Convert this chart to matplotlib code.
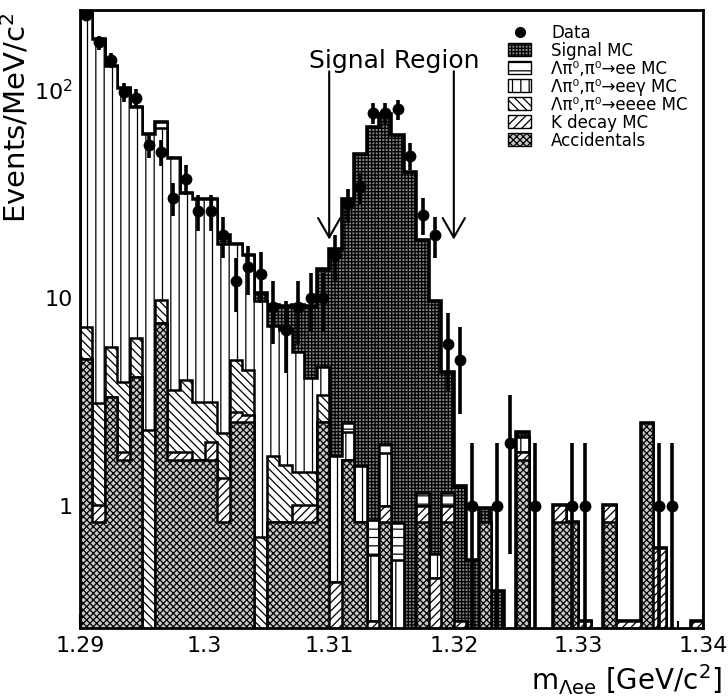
import numpy as np
import matplotlib
matplotlib.use("Agg")
import matplotlib.pyplot as plt
from matplotlib.patches import Patch
from matplotlib.lines import Line2D
from matplotlib.ticker import MultipleLocator, LogLocator, FixedLocator, FuncFormatter, NullFormatter

plt.rcParams['font.family'] = ['DejaVu Sans']
plt.rcParams['hatch.linewidth'] = 0.9

# ---- binning: 1 MeV bins from 1.29 to 1.34 GeV ----
x_min, x_max, n_bins = 1.29, 1.34, 50
edges = np.linspace(x_min, x_max, n_bins + 1)
centers = 0.5 * (edges[:-1] + edges[1:])

# ---- data (events per MeV bin) ----
data = [227, 168, 138, 97, 91, 54, 50, 30, 37, 26,
        26, 20, 12, 14, 13, 9, 7, 9, 10, 10,
        16, 28, 34, 77, 77, 80, 48, 25, 20, 6,
        5, 1, 0, 1, 2, 0, 1, 0, 0, 1,
        1, 0, 0, 0, 0, 0, 1, 1, 0, 0]

# ---- MC components (stack order: bottom -> top) ----
accidentals = [5.1, 0.84, 3.33, 1.66, 4.18, 0, 7.57, 1.66, 1.66, 1.66,
               1.66, 0.84, 2.54, 2.54, 0, 0.84, 0.84, 0.84, 0.84, 2.54,
               0, 1.66, 0.84, 0, 0.84, 0, 0, 0.84, 0, 0.84,
               0, 0, 0.84, 0, 0, 1.66, 0, 0, 0.84, 0.84,
               0, 0, 0.84, 0, 0, 2.5, 0, 0, 0, 0]
kdecay = [0, 0.17, 0, 0.16, 0, 0, 0, 0.16, 0.16, 0,
          0.38, 0.52, 0.30, 0.20, 0, 0, 0, 0.17, 0.17, 0,
          0.43, 0, 0, 0.28, 0.16, 0, 0, 0.16, 0.45, 0.16,
          0.28, 0, 0, 0, 0, 0.16, 0, 0, 0.17, 0,
          0.28, 0, 0.17, 0.28, 0.28, 0, 0.63, 0, 0, 0.28]
eeee = [2.1, 2.11, 2.47, 2.1, 2.22, 2.32, 2.2, 1.79, 2.21, 1.51,
        1.13, 0.89, 2.2, 1.76, 0.71, 0.89, 0.73, 0.45, 0.45, 0.87,
        0, 0, 0, 0, 0, 0, 0, 0, 0, 0,
        0, 0, 0, 0, 0, 0, 0, 0, 0, 0,
        0, 0, 0, 0, 0, 0, 0, 0, 0, 0]
eegamma = [227.8, 171.9, 123.2, 97.1, 76.2, 58.5, 55.2, 43.4, 27.9, 26.6,
           26.6, 15.75, 13.0, 11.5, 8.9, 5.57, 5.43, 4.04, 2.64, 1.26,
           1.3, 0.61, 0.71, 0.30, 0.79, 0.55, 0, 0, 0.14, 0,
           0, 0, 0, 0, 0, 0.33, 0, 0, 0, 0,
           0, 0, 0, 0, 0, 0, 0, 0, 0, 0]
ee = [0, 0, 0, 0, 0, 0, 4.6, 0, 0, 0,
      0, 0, 0, 0, 0, 0, 0, 0, 0, 0,
      0, 0.23, 0, 0.28, 0.2, 0.28, 0, 0.15, 0, 0.15,
      0, 0, 0, 0, 0, 0, 0, 0, 0, 0,
      0, 0, 0, 0, 0, 0, 0, 0, 0, 0]
signal = [0, 0, 0, 0, 0, 0, 0, 0, 0, 0,
          0, 2.0, 0, 0, 0.9, 1.9, 2.1, 3.7, 5.0, 9.1,
          15.4, 27.3, 47.2, 65.1, 73.8, 59.2, 40, 17.85, 9.0, 3.25,
          0.97, 0.55, 0.14, 0.39, 0, 0.12, 0, 0, 0, 0,
          0, 0, 0, 0, 0, 0, 0, 0, 0, 0]

components = [
    ("Accidentals", accidentals, "#c8c8c8", "xxxxx"),
    ("K decay MC", kdecay, "white", "////"),
    ("\u039b\u03c0\u2070,\u03c0\u2070\u2192eeee MC", eeee, "white", "\\\\\\\\"),
    ("\u039b\u03c0\u2070,\u03c0\u2070\u2192ee\u03b3 MC", eegamma, "white", "||"),
    ("\u039b\u03c0\u2070,\u03c0\u2070\u2192ee MC", ee, "white", "--"),
    ("Signal MC", signal, "#808080", "+++++"),
]

fig = plt.figure(figsize=(7.28, 6.98), dpi=100)
ax = fig.add_axes([80 / 728, 70 / 698, 623 / 728, 618 / 698])
ax.set_yscale("log")

base = 1e-3
cums = np.cumsum([np.asarray(c, float) for _, c, _, _ in components], axis=0)
# draw from the top cumulative down (ROOT THStack style)
for k in range(len(components) - 1, -1, -1):
    name, _, fc, hatch = components[k]
    vals = np.where(cums[k] > 0, cums[k], base)
    ax.stairs(vals, edges, baseline=base, fill=True, facecolor=fc,
              edgecolor="black", hatch=hatch, linewidth=0, zorder=2)
    ax.stairs(vals, edges, baseline=base, fill=False, edgecolor="black",
              linewidth=2.6 if k == len(components) - 1 else 1.8, zorder=2)

# data points
d = np.asarray(data, float)
m = d > 0
err = np.sqrt(d[m])
lo = np.minimum(err, d[m] - 1e-4)
ax.errorbar(centers[m], d[m], yerr=[lo, err], fmt="o", color="black",
            ms=7.5, elinewidth=2.6, capsize=0, zorder=5)

ax.set_xlim(x_min, x_max)
ax.set_ylim(0.26, 240)

# signal region arrows
for xa in (1.31, 1.32):
    ax.annotate("", xy=(xa, 19), xytext=(xa, 122),
                arrowprops=dict(arrowstyle="->,head_length=0.7,head_width=0.4",
                                lw=1.5, color="black", mutation_scale=20,
                                shrinkA=0, shrinkB=0), zorder=6)
ax.text(1.3152, 136, "Signal Region", ha="center", va="center", fontsize=18, zorder=6)

# ticks
ax.xaxis.set_major_locator(MultipleLocator(0.01))
ax.xaxis.set_minor_locator(MultipleLocator(0.002))
ax.xaxis.set_major_formatter(FuncFormatter(lambda v, p: f"{v:.2f}".rstrip("0") if abs(v - 1.30) > 1e-9 else "1.3"))
ax.yaxis.set_major_locator(FixedLocator([1, 10, 100]))
ax.yaxis.set_minor_locator(LogLocator(base=10, subs=np.arange(2, 10)))
ax.yaxis.set_minor_formatter(NullFormatter())
ax.yaxis.set_major_formatter(FuncFormatter(lambda v, p: {1: "1", 10: "10", 100: "10$^2$"}.get(int(round(v)), "")))
ax.tick_params(which="both", direction="in", top=False, right=False, width=1.5, labelsize=16)
ax.tick_params(axis="y", which="major", length=12, pad=5)
ax.tick_params(axis="y", which="minor", length=6)
ax.tick_params(axis="x", which="major", length=10, pad=6)
ax.tick_params(axis="x", which="minor", length=5)
for s in ax.spines.values():
    s.set_linewidth(2)
    s.set_zorder(10)

ax.set_ylabel("Events/MeV/c$^2$", fontsize=21, loc="top")
ax.yaxis.set_label_coords(-0.078, 0.995)
ax.set_xlabel(r"m$_{\mathrm{\Lambda ee}}$ [GeV/c$^2$]", fontsize=20, loc="right")
ax.xaxis.set_label_coords(1.03, -0.055)

# legend
handles = [Line2D([], [], marker="o", color="black", ls="none", ms=7)]
labels = ["Data"]
for name, _, fc, hatch in reversed(components):
    handles.append(Patch(facecolor=fc, edgecolor="black", hatch=hatch, linewidth=1))
    labels.append(name)
leg = ax.legend(handles, labels, loc="upper left", bbox_to_anchor=(0.687, 0.978),
                frameon=False, fontsize=12, labelspacing=0.0, handlelength=1.4,
                handleheight=0.8, handletextpad=1.2, borderpad=0, borderaxespad=0)
leg.set_zorder(12)

fig.savefig("out.png", dpi=100)
